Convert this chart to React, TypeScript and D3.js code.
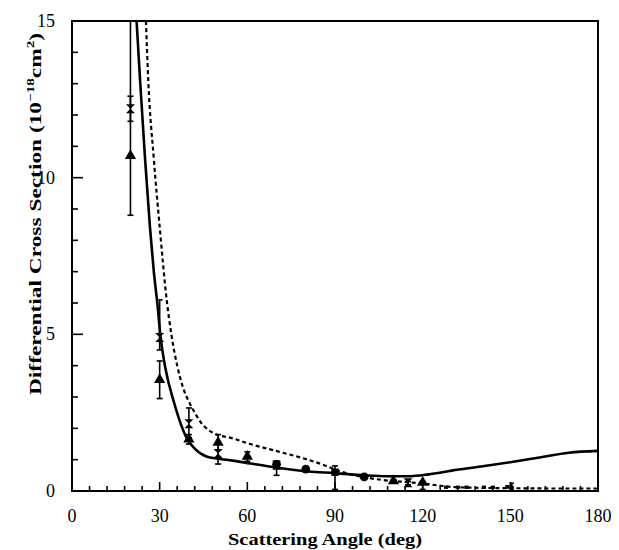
import React from 'react';
import * as d3 from 'd3';

// theory curves (angle in deg, cross section in 1e-18 cm^2)
const solidAngle = [22.1, 23.3, 25, 26.7, 28, 29.3, 30.2, 32, 35, 37, 39.2, 42, 46, 50, 55, 61, 70, 81, 90, 100, 108, 115, 122, 130, 140, 150, 160, 170, 180];
const solidValue = [15, 13.1, 10.6, 8.4, 7.0, 5.9, 5.0, 3.9, 2.8, 2.2, 1.7, 1.35, 1.1, 1.03, 0.97, 0.88, 0.75, 0.62, 0.57, 0.5, 0.47, 0.47, 0.53, 0.65, 0.78, 0.92, 1.07, 1.22, 1.28];

const dashAngle = [25.3, 26.1, 28, 30.1, 32.4, 34, 36, 38, 40, 42, 44, 46, 48.4, 55, 61, 71, 80, 85, 92, 100, 106.5, 115, 120, 125, 130, 140, 150, 165, 180];
const dashValue = [15, 13.1, 10.6, 8.33, 6.1, 5.0, 4.0, 3.3, 2.85, 2.5, 2.2, 2.0, 1.85, 1.68, 1.5, 1.25, 1.02, 0.87, 0.62, 0.44, 0.35, 0.28, 0.24, 0.18, 0.13, 0.1, 0.09, 0.08, 0.08];

// measurements
const triAngle = [20, 30, 40, 50, 60, 110, 120];
const triValue = [10.7, 3.55, 1.65, 1.55, 1.1, 0.32, 0.27];
const triLo = [8.8, 2.95, 1.5, 1.3, 0.95, 0.28, 0.05];
const triHi = [12.6, 4.15, 1.8, 1.8, 1.25, 0.36, 0.3];

const starAngle = [20, 30, 40, 50, 70, 115];
const starValue = [12.2, 4.9, 2.15, 1.2, 0.82, 0.26];
const starLo = [11.8, 4.5, 1.7, 0.86, 0.5, 0.2];
const starHi = [16, 6.1, 2.65, 1.5, 0.96, 0.3];

const squareAngle = [90];
const squareValue = [0.6];
const squareLo = [0.05];
const squareHi = [0.8];

const circleAngle = [70, 80, 100];
const circleValue = [0.85, 0.7, 0.45];

const smallAngle = [128, 132, 135, 141, 144, 149, 150.5];
const smallValue = [0.12, 0.12, 0.12, 0.12, 0.12, 0.13, 0.12];
const smallLo = [0.1, 0.1, 0.1, 0.1, 0.1, 0.1, 0.05];
const smallHi = [0.14, 0.14, 0.14, 0.14, 0.14, 0.16, 0.25];

const xTicks = [0, 30, 60, 90, 120, 150, 180];
const yTicks = [0, 5, 10, 15];

const W = 619, H = 550;
const left = 72, right = 598, top = 21, bottom = 491;

const x = d3.scaleLinear().domain([0, 180]).range([left, right]);
const y = d3.scaleLinear().domain([0, 15]).range([bottom, top]);

const zip = (a: number[], v: number[]) => a.map((d, i) => [d, v[i]] as [number, number]);

const line = d3.line<[number, number]>()
  .x(d => x(d[0]))
  .y(d => y(d[1]))
  .curve(d3.curveMonotoneX);

const tri = d3.symbol().type(d3.symbolTriangle).size(55)();
const circ = d3.symbol().type(d3.symbolCircle).size(60)();
const sq = d3.symbol().type(d3.symbolSquare).size(55)();
const hourglass = 'M-4.5,-4.5L4.5,-4.5L-4.5,4.5L4.5,4.5Z';
const small = 'M-2,-1.5L2,-1.5L2,1.5L-2,1.5Z';

const ErrorBars = ({ a, lo, hi, cap = 3 }: { a: number[]; lo: number[]; hi: number[]; cap?: number }) => (
  <g stroke="#000" strokeWidth={1.6}>
    {a.map((d, i) => (
      <g key={i}>
        <line x1={x(d)} x2={x(d)} y1={y(lo[i])} y2={y(hi[i])} />
        <line x1={x(d) - cap} x2={x(d) + cap} y1={y(lo[i])} y2={y(lo[i])} />
        <line x1={x(d) - cap} x2={x(d) + cap} y1={y(hi[i])} y2={y(hi[i])} />
      </g>
    ))}
  </g>
);

const Marks = ({ a, v, path }: { a: number[]; v: number[]; path: string }) => (
  <g fill="#000">
    {a.map((d, i) => (
      <path key={i} d={path} transform={`translate(${x(d)},${y(v[i])})`} />
    ))}
  </g>
);

export default function App() {
  const xMinor = d3.range(0, 181, 6);
  const yMinor = d3.range(0, 16, 1);
  const font = '"Liberation Serif", "DejaVu Serif", serif';
  return (
    <svg width={W} height={H} style={{ position: 'absolute', left: 0, top: 0, background: '#fff' }}>
      <defs>
        <clipPath id="plot">
          <rect x={left} y={top} width={right - left} height={bottom - top} />
        </clipPath>
      </defs>

      {/* ticks pointing inward */}
      <g stroke="#000" strokeWidth={1.6}>
        {xMinor.map(t => (
          <line key={'x' + t} x1={x(t)} x2={x(t)} y1={bottom} y2={bottom - (t % 30 === 0 ? 9 : 5)} />
        ))}
        {yMinor.map(t => (
          <line key={'y' + t} x1={left} x2={left + (t % 5 === 0 ? 11 : 6)} y1={y(t)} y2={y(t)} />
        ))}
      </g>

      <g clipPath="url(#plot)">
        <path d={line(zip(dashAngle, dashValue)) || ''} fill="none" stroke="#000" strokeWidth={2.2} strokeDasharray="4,3" />
        <path d={line(zip(solidAngle, solidValue)) || ''} fill="none" stroke="#000" strokeWidth={2.6} />
        <ErrorBars a={triAngle} lo={triLo} hi={triHi} />
        <ErrorBars a={starAngle} lo={starLo} hi={starHi} />
        <ErrorBars a={squareAngle} lo={squareLo} hi={squareHi} />
        <ErrorBars a={smallAngle} lo={smallLo} hi={smallHi} cap={2} />
        <Marks a={triAngle} v={triValue} path={tri} />
        <Marks a={starAngle} v={starValue} path={hourglass} />
        <Marks a={squareAngle} v={squareValue} path={sq} />
        <Marks a={circleAngle} v={circleValue} path={circ} />
        <Marks a={smallAngle} v={smallValue} path={small} />
      </g>

      <rect x={left} y={top} width={right - left} height={bottom - top} fill="none" stroke="#000" strokeWidth={2} />

      <g fontFamily={font} fontSize={18} fill="#000">
        {xTicks.map(t => (
          <text key={t} x={x(t)} y={522} textAnchor="middle">{t}</text>
        ))}
        {yTicks.map(t => (
          <text key={t} x={55} y={y(t) + 6} textAnchor="end">{t}</text>
        ))}
      </g>

      <text x={325} y={545} textAnchor="middle" fontFamily={font} fontWeight="bold" fontSize={17}
        textLength={194} lengthAdjust="spacingAndGlyphs">
        Scattering Angle (deg)
      </text>
      <text transform="translate(41,214) rotate(-90)" textAnchor="middle" fontFamily={font} fontWeight="bold" fontSize={17}
        textLength={362} lengthAdjust="spacingAndGlyphs">
        Differential Cross Section (10<tspan fontSize={11} dy={-7}>−18</tspan><tspan dy={7}>cm</tspan><tspan fontSize={11} dy={-7}>2</tspan><tspan dy={7}>)</tspan>
      </text>
    </svg>
  );
}
